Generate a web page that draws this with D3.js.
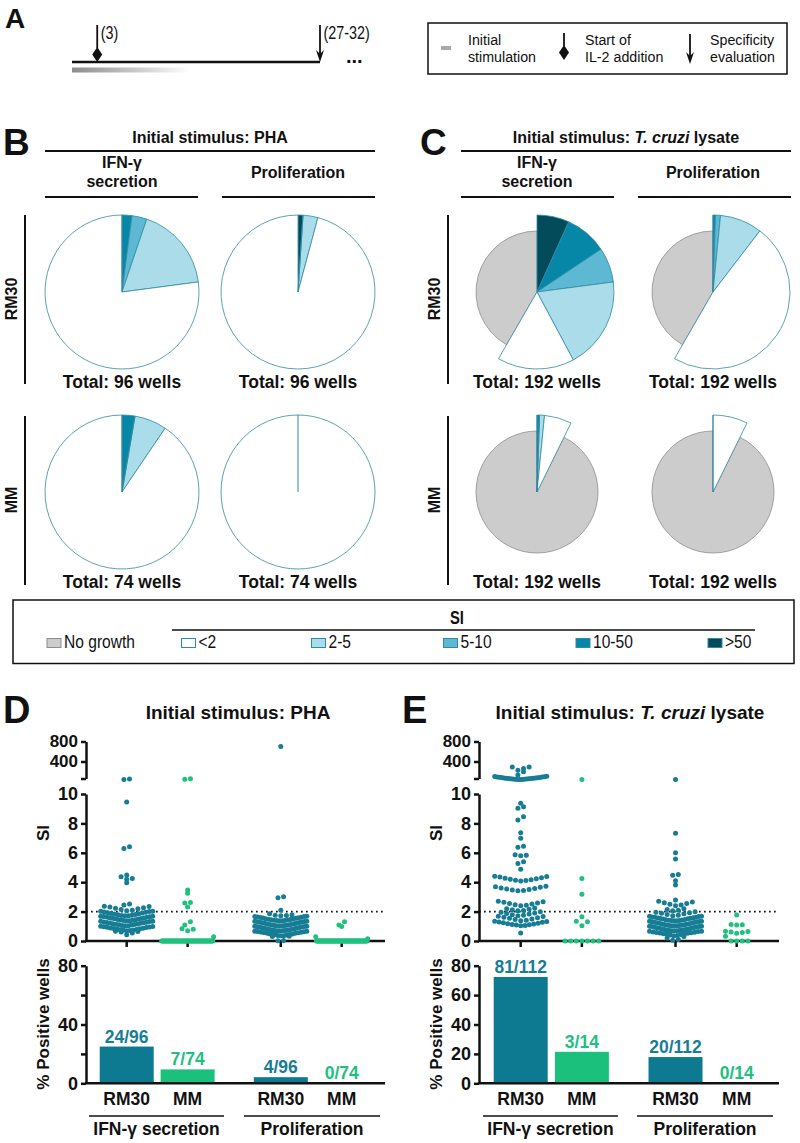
<!DOCTYPE html>
<html><head><meta charset="utf-8">
<script src="https://cdn.jsdelivr.net/npm/d3@7"></script>
<style>
html,body{margin:0;padding:0;background:#fff;}
svg{display:block;}
</style></head><body>
<svg id="fig" width="800" height="1143"></svg>
<script>
// ================= DATA =================
// SI classes in clockwise pie order (from 12 o'clock)
const siClasses = [">50", "10-50", "5-10", "2-5", "<2", "No growth"];
const legendOrder = ["No growth", "<2", "2-5", "5-10", "10-50", ">50"];
// wells per SI class (same order as siClasses)
const pieB_RM30_IFN = [0, 2, 3, 17, 74, 0];
const pieB_RM30_Pro = [1, 0, 0, 3, 92, 0];
const pieB_MM_IFN   = [0, 2, 0, 5, 67, 0];
const pieB_MM_Pro   = [0, 0, 0, 0, 74, 0];
const pieC_RM30_IFN = [13, 17, 14, 37, 31, 80];
const pieC_RM30_Pro = [0, 1, 2, 17, 92, 80];
const pieC_MM_IFN   = [0, 1, 0, 2, 11, 178];
const pieC_MM_Pro   = [0, 0, 0, 0, 14, 178];

// timeline (days)
const tlEvents = [{day: 3, label: "(3)", kind: "diamond"}, {day: 29.5, label: "(27-32)", kind: "arrow"}];

// SI per well (dot plots)
const D_RM30_IFN = [48, 42, 9.45, 6.42, 6.30, 4.49, 4.37, 4.26, 4.20, 3.97, 2.52, 2.45,
  2.37, 2.35, 2.31, 2.27, 2.23, 2.19, 2.14, 2.10, 2.06,
  2.03, 2.02, 2.01, 1.98, 1.95, 1.92, 1.90, 1.87, 1.85, 1.83, 1.80, 1.78, 1.76, 1.74, 1.72, 1.71,
  1.69, 1.68, 1.67, 1.65, 1.63, 1.61, 1.59, 1.57, 1.55, 1.53, 1.51, 1.49, 1.47, 1.45, 1.43, 1.41, 1.40, 1.38, 1.37,
  1.35, 1.34, 1.32, 1.30, 1.28, 1.26, 1.24, 1.22, 1.20, 1.18, 1.16, 1.14, 1.12, 1.10, 1.08, 1.06, 1.04, 1.03,
  1.01, 0.99, 0.97, 0.95, 0.93, 0.91, 0.89, 0.87, 0.85, 0.83, 0.81, 0.79, 0.77, 0.75, 0.73, 0.71, 0.69,
  0.67, 0.64, 0.61, 0.55, 0.42];
const D_MM_IFN = [55, 45, 3.47, 3.24, 2.62, 2.58, 2.31, 1.31, 1.09, 0.84, 0.80, 0.70, 0.29,
  0,0,0,0,0,0,0,0,0,0, 0,0,0,0,0,0,0,0,0,0, 0,0,0,0,0,0,0,0,0,0,
  0,0,0,0,0,0,0,0,0,0, 0,0,0,0,0,0,0,0,0,0, 0,0,0,0,0,0,0,0,0,0, 0];
const D_RM30_Pro = [700, 3.01, 2.95, 2.10, 1.86, 1.78, 1.76, 1.74, 1.72,
  1.69, 1.67, 1.66, 1.64, 1.62, 1.60, 1.58, 1.56, 1.54, 1.52, 1.50, 1.48, 1.46, 1.44, 1.43, 1.41, 1.40, 1.39, 1.38, 1.37,
  1.35, 1.34, 1.33, 1.31, 1.29, 1.28, 1.26, 1.24, 1.22, 1.20, 1.18, 1.16, 1.14, 1.12, 1.10, 1.09, 1.07, 1.06, 1.05, 1.04, 1.03, 1.03,
  1.01, 1.00, 0.99, 0.97, 0.95, 0.94, 0.92, 0.90, 0.88, 0.86, 0.84, 0.82, 0.80, 0.78, 0.76, 0.75, 0.73, 0.72, 0.71, 0.70, 0.69, 0.69,
  0.67, 0.66, 0.65, 0.63, 0.61, 0.60, 0.58, 0.56, 0.54, 0.52, 0.50, 0.48, 0.46, 0.44, 0.42, 0.40, 0.38, 0.36, 0.35,
  0.33, 0.31, 0.03, 0.02];
const D_MM_Pro = [1.31, 1.09, 0.99, 0.29, 0.16,
  0,0,0,0,0,0,0,0,0,0, 0,0,0,0,0,0,0,0,0,0, 0,0,0,0,0,0,0,0,0,0,
  0,0,0,0,0,0,0,0,0,0, 0,0,0,0,0,0,0,0,0,0, 0,0,0,0,0,0,0,0,0,0,
  0,0,0,0,0,0,0,0,0];
const E_RM30_IFN = [292, 288, 261, 227, 194, 128,
  104, 99, 95, 92, 88, 85, 82, 78, 75, 72, 69, 66, 63, 60, 58, 55, 53, 50, 48, 46, 44, 42, 40, 38,
  9.37, 9.14, 9.03, 8.46, 8.23, 7.37, 6.99, 6.45, 6.37, 5.86, 5.83, 5.80, 5.39, 5.28, 4.88,
  4.41, 4.38, 4.35, 4.31, 4.27, 4.24, 4.20, 4.17, 4.14, 4.11, 4.09,
  3.73, 3.69, 3.65, 3.61, 3.57, 3.54, 3.50, 3.47, 3.44, 3.41,
  2.71, 2.67, 2.63, 2.59, 2.55, 2.51, 2.47, 2.43, 2.39,
  2.25, 2.20, 2.16, 2.12, 2.08, 2.05,
  1.99, 1.95, 1.91, 1.87, 1.83, 1.79, 1.75, 1.72,
  1.69, 1.66, 1.62, 1.58, 1.54, 1.50, 1.46, 1.42, 1.38,
  1.35, 1.33, 1.30, 1.27, 1.24, 1.21, 1.18, 1.15, 1.13, 1.10, 1.08, 1.05, 1.03,
  0.55];
const E_MM_IFN = [40, 4.26, 3.18, 1.65, 1.35, 1.31, 1.04, 0, 0, 0, 0, 0, 0, 0];
const E_RM30_Pro = [40, 7.33, 6.00, 5.58, 4.52, 4.48, 4.10, 3.81, 2.79,
  2.70, 2.65, 2.60, 2.55, 2.50, 2.45, 2.40,
  2.20, 2.14, 2.09, 2.05,
  1.99, 1.96, 1.93, 1.89, 1.85, 1.80, 1.76, 1.72,
  1.69, 1.68, 1.66, 1.64, 1.62, 1.61, 1.59, 1.57, 1.55, 1.53, 1.51, 1.49, 1.47, 1.45, 1.43, 1.42, 1.40, 1.39, 1.38, 1.37,
  1.35, 1.34, 1.33, 1.31, 1.30, 1.28, 1.26, 1.24, 1.22, 1.20, 1.18, 1.16, 1.14, 1.12, 1.10, 1.09, 1.07, 1.06, 1.05, 1.04, 1.03, 1.03,
  1.01, 1.00, 0.99, 0.98, 0.96, 0.94, 0.92, 0.90, 0.88, 0.86, 0.84, 0.82, 0.80, 0.78, 0.76, 0.74, 0.73, 0.72, 0.71, 0.70, 0.69, 0.69,
  0.67, 0.66, 0.64, 0.62, 0.60, 0.58, 0.56, 0.54, 0.52, 0.50, 0.48, 0.46, 0.44, 0.41, 0.38, 0.36,
  0.30, 0.20, 0.10, 0.05];
const E_MM_Pro = [1.77, 1.12, 1.10, 1.09, 0.67, 0.64, 0.61, 0.58, 0.53, 0.33, 0, 0, 0, 0];

// positive wells (bars)
const barCats = ["RM30", "MM", "RM30", "MM"];
const barGroups = ["IFN-γ secretion", "Proliferation"];
const D_pos = [24, 7, 4, 0], D_tot = [96, 74, 96, 74];
const E_pos = [81, 3, 20, 0], E_tot = [112, 14, 112, 14];
const dotTicksLo = [0, 2, 4, 6, 8, 10];
const dotTicksHi = [400, 800];
const barTicks = [0, 20, 40, 60, 80];

// ================= STYLE =================
const FONT = "'Liberation Sans', Arial, Helvetica, sans-serif";
const siColors = {">50": "#034a5a", "10-50": "#0787a7", "5-10": "#5db9d3", "2-5": "#abdcea", "<2": "#ffffff", "No growth": "#cccccc"};
const TEAL = "#177d95", GREEN = "#20c07f";
const BAR_TEAL = "#0d7a92", BAR_GREEN = "#1cc07d";
const grpColor = [TEAL, GREEN, TEAL, GREEN];
const barColor = [BAR_TEAL, BAR_GREEN, BAR_TEAL, BAR_GREEN];

const svg = d3.select("#fig").attr("font-family", FONT);
svg.append("rect").attr("width", 800).attr("height", 1143).attr("fill", "#fff");
const defs = svg.append("defs");

function ntext(g, x, y, str, size, opt = {}) {
  return g.append("text").attr("transform", `translate(${x},${y}) scale(${opt.sx || 0.82},1)`)
    .attr("font-size", size).attr("font-weight", opt.bold ? "bold" : "normal")
    .attr("text-anchor", opt.anchor || "start").attr("fill", "#111").text(str);
}
function btext(g, x, y, str, size, anchor = "middle", fill = "#111") {
  return g.append("text").attr("x", x).attr("y", y).attr("font-size", size)
    .attr("font-weight", "bold").attr("text-anchor", anchor).attr("fill", fill).text(str);
}
function hline(g, x1, x2, y, w = 1.8) {
  g.append("line").attr("x1", x1).attr("x2", x2).attr("y1", y).attr("y2", y)
    .attr("stroke", "#111").attr("stroke-width", w);
}
function vline(g, x, y1, y2, w = 2) {
  g.append("line").attr("x1", x).attr("x2", x).attr("y1", y1).attr("y2", y2)
    .attr("stroke", "#111").attr("stroke-width", w);
}
function arrowDown(g, x, y1, y2) {
  vline(g, x, y1, y2 - 4, 1.8);
  g.append("path").attr("d", `M${x - 4},${y2 - 12} L${x},${y2} L${x + 4},${y2 - 12} L${x},${y2 - 8} Z`).attr("fill", "#111");
}
function diamond(g, x, cy, w, h) {
  g.append("path").attr("d", `M${x},${cy - h / 2} L${x + w / 2},${cy} L${x},${cy + h / 2} L${x - w / 2},${cy} Z`).attr("fill", "#111");
}

// ================= PANEL A =================
const gA = svg.append("g");
btext(gA, 5, 28, "A", 28, "start");
const grad = defs.append("linearGradient").attr("id", "gradA");
grad.append("stop").attr("offset", "0%").attr("stop-color", "#8c8c8c");
grad.append("stop").attr("offset", "100%").attr("stop-color", "#ffffff");
const tx = d3.scaleLinear().domain([0, 29.5]).range([72, 320]);
gA.append("rect").attr("x", tx(0)).attr("y", 67.5).attr("width", 118).attr("height", 5).attr("fill", "url(#gradA)");
hline(gA, tx(0), tx(29.5), 62, 2.6);
tlEvents.forEach(e => {
  const x = tx(e.day);
  if (e.kind === "diamond") { vline(gA, x, 25, 48, 1.8); diamond(gA, x, 54.5, 10, 15); }
  else arrowDown(gA, x, 25, 62);
  ntext(gA, x + 3.5, 39, e.label, 17.5);
});
btext(gA, 346, 63, "...", 20, "start");
gA.append("rect").attr("x", 428).attr("y", 23).attr("width", 359).attr("height", 51)
  .attr("fill", "none").attr("stroke", "#111").attr("stroke-width", 1.5);
gA.append("line").attr("x1", 441).attr("x2", 451).attr("y1", 48).attr("y2", 48).attr("stroke", "#aaa").attr("stroke-width", 4);
const LA = {sx: 0.95};
ntext(gA, 468, 45, "Initial", 15, LA); ntext(gA, 468, 62, "stimulation", 15, LA);
vline(gA, 564, 33, 46, 1.8); diamond(gA, 564, 52.5, 10, 15);
ntext(gA, 585, 45, "Start of", 15, LA); ntext(gA, 585, 62, "IL-2 addition", 15, LA);
arrowDown(gA, 690, 34, 64);
ntext(gA, 710, 45, "Specificity", 15, LA); ntext(gA, 710, 62, "evaluation", 15, LA);

// ================= PANELS B & C (pies) =================
const R_PIE = 77, R_GRAY = 61;
const arcGen = d3.arc().innerRadius(0);
const pieGen = d3.pie().sort(null).value(d => d.n).startAngle(0).endAngle(2 * Math.PI);
function drawPie(cx, cy, counts, totalY) {
  const g = svg.append("g").attr("transform", `translate(${cx},${cy})`);
  const rank = s => s.data.k === "No growth" ? 0 : (s.data.n > 0 ? 1 : 2);
  const seenZero = new Set();
  const slices = pieGen(siClasses.map((k, i) => ({k, n: counts[i]})))
    .filter(s => !(s.data.k === "No growth" && s.data.n === 0))
    .filter(s => {
      if (s.data.n > 0) return true;
      const key = s.startAngle.toFixed(4);
      if (seenZero.has(key)) return false;
      seenZero.add(key); return true;
    })
    .sort((a, b) => rank(a) - rank(b));
  g.selectAll("path").data(slices).join("path")
    .attr("d", s => arcGen.outerRadius(s.data.k === "No growth" ? R_GRAY : R_PIE)(s))
    .attr("fill", s => siColors[s.data.k])
    .attr("stroke", s => s.data.k === "No growth" ? "#8e8e8e" : "#2f8aa3")
    .attr("stroke-width", s => s.data.n > 0 ? 0.8 : 0.6).attr("stroke-linejoin", "round");
  btext(svg, cx, totalY, `Total: ${d3.sum(counts)} wells`, 17.5);
}
function pieBlock(x0, letter, letterX, titleParts, colX, rowLineX, pies) {
  const g = svg.append("g");
  btext(g, letterX, 155, letter, 37, "start");
  const t = g.append("text").attr("x", (x0 + x0 + 330) / 2).attr("y", 143).attr("font-size", 16)
    .attr("font-weight", "bold").attr("text-anchor", "middle").attr("fill", "#111");
  titleParts.forEach(p => t.append("tspan").attr("font-style", p.it ? "italic" : "normal").text(p.s));
  hline(g, x0, x0 + 330, 151);
  btext(g, colX[0], 168, "IFN-γ", 16); btext(g, colX[0], 187, "secretion", 16);
  btext(g, colX[1], 178, "Proliferation", 16);
  hline(g, x0, x0 + 153, 197); hline(g, x0 + 177, x0 + 330, 197);
  vline(g, rowLineX, 215, 384); vline(g, rowLineX, 416, 585);
  g.append("text").attr("transform", `translate(${rowLineX - 8},299) rotate(-90)`).attr("font-size", 16)
    .attr("font-weight", "bold").attr("text-anchor", "middle").attr("fill", "#111").text("RM30");
  g.append("text").attr("transform", `translate(${rowLineX - 8},500) rotate(-90)`).attr("font-size", 16)
    .attr("font-weight", "bold").attr("text-anchor", "middle").attr("fill", "#111").text("MM");
  drawPie(colX[0], 292, pies[0], 388); drawPie(colX[1], 292, pies[1], 388);
  drawPie(colX[0], 492, pies[2], 588); drawPie(colX[1], 492, pies[3], 588);
}
pieBlock(45, "B", 3, [{s: "Initial stimulus: PHA"}], [122, 298], 25,
  [pieB_RM30_IFN, pieB_RM30_Pro, pieB_MM_IFN, pieB_MM_Pro]);
pieBlock(461, "C", 420, [{s: "Initial stimulus: "}, {s: "T. cruzi", it: true}, {s: " lysate"}], [537, 713], 448,
  [pieC_RM30_IFN, pieC_RM30_Pro, pieC_MM_IFN, pieC_MM_Pro]);

// ================= LEGEND (SI) =================
const gL = svg.append("g");
gL.append("rect").attr("x", 13).attr("y", 600).attr("width", 781).attr("height", 63.5)
  .attr("fill", "none").attr("stroke", "#111").attr("stroke-width", 1.5);
ntext(gL, 457, 624, "SI", 18, {bold: true, anchor: "middle"});
hline(gL, 172, 755, 630, 1.6);
const legX = [64, 198.5, 328.5, 460.5, 593, 725];
legendOrder.forEach((k, i) => {
  gL.append("rect").attr("x", legX[i] - 17).attr("y", 638.5).attr("width", 14).attr("height", 9)
    .attr("fill", siColors[k]).attr("stroke", k === "No growth" ? "#8e8e8e" : "#2f8aa3").attr("stroke-width", 1);
  ntext(gL, legX[i], 648, k, 19);
});

// ================= PANELS D & E =================
const yLo = d3.scaleLinear().domain([0, 10]).range([941, 794]);
const yHi = d3.scaleLinear().domain([60, 800]).range([778.5, 741.5]);
const yBar = d3.scaleLinear().domain([0, 80]).range([1083.3, 965.7]);
const slots = [0, 1, 2.53, 3.53];
const BIN = 5, S_MAX = 5.6, HALF = 26, DOT_R = 2.5;

function layoutSwarm(vals, cx) {
  const pts = vals.map(v => {
    const up = v > 10;
    const y = up ? yHi(v) : yLo(v);
    const base = up ? yHi(10) : yLo(0);
    return {v, y, row: (up ? "u" : "l") + Math.floor((base - y) / BIN + 1e-9)};
  });
  for (const [, r] of d3.group(pts, p => p.row)) {
    r.sort((a, b) => a.v - b.v);
    const n = r.length;
    const s = n > 1 ? Math.min(S_MAX, 2 * HALF / (n - 1)) : 0;
    r.forEach((p, i) => {
      const k = n % 2 ? Math.ceil(i / 2) : Math.floor(i / 2) + 0.5;
      p.x = cx + (i % 2 ? 1 : -1) * k * s;
    });
  }
  return pts;
}
function styleAxis(sel, size) {
  sel.select(".domain").attr("stroke", "#111").attr("stroke-width", 2.5);
  sel.selectAll(".tick line").attr("stroke", "#111").attr("stroke-width", 2.5);
  sel.selectAll(".tick text").attr("font-size", size).attr("font-weight", "bold")
    .attr("font-family", FONT).attr("fill", "#111");
}

function panelDE(cfg) {
  const g = svg.append("g");
  const xs = d3.scaleLinear().domain([0, 3.53]).range(cfg.catRange);
  const cx = slots.map(s => xs(s));
  btext(g, cfg.letterX, 723, cfg.letter, 38, "start");
  const t = g.append("text").attr("x", cfg.titleX).attr("y", 719).attr("font-size", 19)
    .attr("font-weight", "bold").attr("text-anchor", "middle").attr("fill", "#111");
  cfg.title.forEach(p => t.append("tspan").attr("font-style", p.it ? "italic" : "normal").text(p.s));

  // dot plot axes
  g.append("g").attr("transform", `translate(${cfg.axisX},0)`)
    .call(d3.axisLeft(yLo).tickValues(dotTicksLo).tickSize(5).tickSizeOuter(0).tickPadding(3))
    .call(s => styleAxis(s, 18));
  g.append("g").attr("transform", `translate(${cfg.axisX},0)`)
    .call(d3.axisLeft(yHi).tickValues([60].concat(dotTicksHi)).tickFormat(d => d === 60 ? "" : d)
      .tickSize(5).tickSizeOuter(0).tickPadding(3))
    .call(s => styleAxis(s, 17));
  hline(g, cfg.axisX - 1, cfg.xEnd, yLo(0), 2.5);
  cx.forEach(x => g.append("line").attr("x1", x).attr("x2", x).attr("y1", yLo(0)).attr("y2", yLo(0) + 6)
    .attr("stroke", "#111").attr("stroke-width", 2.5));
  g.append("line").attr("x1", cfg.axisX).attr("x2", cfg.xEnd).attr("y1", yLo(2)).attr("y2", yLo(2))
    .attr("stroke", "#111").attr("stroke-width", 1.7).attr("stroke-dasharray", "1.7,3.3");
  g.append("text").attr("transform", `translate(${cfg.axisX - 37},833) rotate(-90)`).attr("font-size", 17)
    .attr("font-weight", "bold").attr("text-anchor", "middle").attr("fill", "#111").text("SI");

  cfg.dots.forEach((vals, i) => {
    g.append("g").selectAll("circle").data(layoutSwarm(vals, cx[i])).join("circle")
      .attr("cx", p => p.x).attr("cy", p => p.y).attr("r", DOT_R).attr("fill", grpColor[i]);
  });

  // bar chart
  g.append("g").attr("transform", `translate(${cfg.axisX},0)`)
    .call(d3.axisLeft(yBar).tickValues(barTicks).tickFormat(cfg.barFmt).tickSize(5).tickSizeOuter(0).tickPadding(3))
    .call(s => styleAxis(s, 18));
  hline(g, cfg.axisX - 1, cfg.xEnd, yBar(0), 2.5);
  g.append("text").attr("transform", `translate(${cfg.axisX - 37},1024) rotate(-90)`).attr("font-size", 17)
    .attr("font-weight", "bold").attr("text-anchor", "middle").attr("fill", "#111").text("% Positive wells");
  const pct = cfg.pos.map((p, i) => 100 * p / cfg.tot[i]);
  g.append("g").selectAll("rect").data(pct).join("rect")
    .attr("x", (d, i) => cx[i] - 27).attr("width", 54)
    .attr("y", d => yBar(d)).attr("height", d => yBar(0) - yBar(d) - 1.2)
    .attr("fill", (d, i) => barColor[i]);
  pct.forEach((d, i) => btext(g, cx[i], yBar(d) - 4, `${cfg.pos[i]}/${cfg.tot[i]}`, 17.5, "middle", grpColor[i]));
  barCats.forEach((c, i) => btext(g, cx[i], 1105, c, 17.5));
  cfg.groupLines.forEach((gl, j) => {
    hline(g, gl[0], gl[1], 1116, 1.5);
    btext(g, (gl[0] + gl[1]) / 2, 1135, barGroups[j], 17.5);
  });
}

panelDE({
  letter: "D", letterX: 3, title: [{s: "Initial stimulus:  PHA"}], titleX: 238,
  axisX: 86, xEnd: 385, catRange: [126.7, 341.7],
  dots: [D_RM30_IFN, D_MM_IFN, D_RM30_Pro, D_MM_Pro],
  pos: D_pos, tot: D_tot, barFmt: d => (d % 40 === 0 ? d : ""),
  groupLines: [[89, 224], [244, 380]]
});
panelDE({
  letter: "E", letterX: 402, title: [{s: "Initial stimulus:  "}, {s: "T. cruzi", it: true}, {s: " lysate"}], titleX: 630,
  axisX: 479, xEnd: 779, catRange: [520.7, 736.7],
  dots: [E_RM30_IFN, E_MM_IFN, E_RM30_Pro, E_MM_Pro],
  pos: E_pos, tot: E_tot, barFmt: d => d,
  groupLines: [[483, 618], [637, 773]]
});
</script>
</body></html>
